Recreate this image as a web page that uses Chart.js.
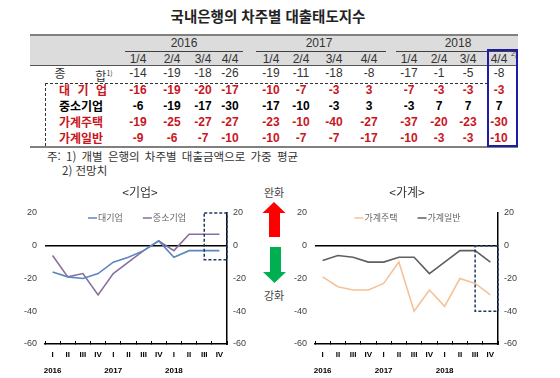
<!DOCTYPE html>
<html lang="ko">
<head>
<meta charset="utf-8">
<script src="https://cdn.jsdelivr.net/npm/chart.js@4.4.1/dist/chart.umd.min.js"></script>
<style>
  body { margin:0; width:560px; height:378px; background:#fff; position:relative; overflow:hidden;
         font-family:"Noto Sans CJK KR", sans-serif; }
  .abs { position:absolute; white-space:nowrap; }
  .c { transform:translateX(-50%); text-align:center; }
  .num { font-family:"Liberation Sans Narrow","Liberation Sans",sans-serif; font-size:12px; color:#333; }
  .bold { font-family:"Liberation Sans",sans-serif; font-weight:bold; font-size:12px; }
  .lab { font-weight:bold; font-size:12px; width:48px; text-align:justify; text-align-last:justify; }
  .red { color:#c8161d; }
  .blk { color:#000; }
  canvas { position:absolute; }
</style>
</head>
<body>
<div id="table"></div>
<svg class="abs" style="left:0;top:0" width="560" height="378">
  <polygon points="274,202 285.5,213 280,213 280,237 269,237 269,213 262.5,213" fill="#ff0000"/>
  <polygon points="270,247 281,247 281,272 286,272 274.5,283 263,272 270,272" fill="#00b050"/>
</svg>
<canvas id="corpChart" width="280" height="202" style="left:0px;top:176px"></canvas>
<canvas id="houseChart" width="274" height="202" style="left:270px;top:176px"></canvas>

<script>
// table data
const years = ['2016', '2017', '2018'];
const quarters = ['1/4', '2/4', '3/4', '4/4'];
const rowNames = ['대 기 업', '중소기업', '가계주택', '가계일반'];
const totalIdx = [-14, -19, -18, -26, -19, -11, -18, -8, -17, -1, -5, -8];
const largeCorp = [-16, -19, -20, -17, -10, -7, -3, 3, -7, -3, -3, -3];
const smeCorp = [-6, -19, -17, -30, -17, -10, -3, 3, -3, 7, 7, 7];
const houseLoan = [-19, -25, -27, -27, -23, -10, -40, -27, -37, -20, -23, -30];
const houseOther = [-9, -6, -7, -10, -10, -7, -7, -17, -10, -3, -3, -10];

// chart axis labels
const quarterTicks = ['I', 'II', 'III', 'IV', 'I', 'II', 'III', 'IV', 'I', 'II', 'III', 'IV'];
const yearTicks = ['2016', '', '', '', '2017', '', '', '', '2018', '', '', ''];
const forecastFrom = 10;
const corpBoxRange = [-8.5, 20];
const houseBoxRange = [-40, 0];

const tbl = document.getElementById('table');
function put(html, x, y, cls, extra) {
  const d = document.createElement('div');
  d.className = 'abs ' + (cls || '');
  d.innerHTML = html;
  d.style.left = x + 'px';
  d.style.top = (y - 9) + 'px';
  d.style.lineHeight = '18px';
  if (extra) Object.assign(d.style, extra);
  tbl.appendChild(d);
  return d;
}
function box(x, y, w, h, style) {
  const d = document.createElement('div');
  d.className = 'abs';
  Object.assign(d.style, { left: x + 'px', top: y + 'px', width: w + 'px', height: h + 'px', boxSizing: 'border-box' }, style);
  tbl.appendChild(d);
}

// title
put('국내은행의 차주별 대출태도지수', 268, 16, 'c', { fontWeight: 'bold', fontSize: '14.5px', color: '#222' });

// header
box(30, 35, 488, 30, { background: '#dcdcdc' });
box(30, 34, 488, 2, { background: '#808080' });
box(30, 65, 488, 1, { background: '#555' });
box(30, 146, 488, 1.5, { background: '#808080' });

const colX = [138, 172, 203, 230, 271, 301, 334, 369, 409, 439, 468, 499];
const yearX = [184, 319, 458];
const yearLine = [[125, 243], [256, 386], [396, 517]];
years.forEach((yr, i) => {
  put(yr, yearX[i], 43, 'c num');
  box(yearLine[i][0], 51, yearLine[i][1] - yearLine[i][0], 1, { background: '#404040' });
});
colX.forEach((x, i) => put(quarters[i % 4], x, 59, 'c num'));
put('<sup style="font-size:7px">2)</sup>', 514, 54, 'c num');

// 종합 row
put('종', 60, 73, 'c', { fontSize: '12px', color: '#333' });
put('합<sup style="font-size:7px">1)</sup>', 104, 73, 'c', { fontSize: '12px', color: '#333' });
totalIdx.forEach((v, i) => put(String(v), colX[i], 73, 'c num'));

// bold rows
const rowY = [90, 106, 122, 138];
const rowCls = ['red', 'blk', 'red', 'red'];
[largeCorp, smeCorp, houseLoan, houseOther].forEach((vals, r) => {
  put(rowNames[r], 59, rowY[r], 'lab ' + rowCls[r]);
  vals.forEach((v, i) => put(String(v), colX[i], rowY[r], 'c bold ' + rowCls[r]));
});

// dashed and blue boxes
box(45, 83, 443, 63, { borderTop: '1px dashed #333', borderLeft: '1px dashed #333' });
box(487, 49, 31, 98, { border: '2px solid #1c1ca8' });

// notes
put('주: 1) 개별 은행의 차주별 대출금액으로 가중 평균', 47, 156, '', { fontSize: '11.5px', color: '#333', wordSpacing: '2px' });
put('2) 전망치', 62, 170, '', { fontSize: '11.5px', color: '#333' });
put('완화', 274, 192, 'c', { fontSize: '11px', color: '#444' });
put('강화', 274, 295, 'c', { fontSize: '11px', color: '#444' });

// plugins
const insideLegend = {
  id: 'insideLegend',
  afterDatasetsDraw(chart, args, opts) {
    const ctx = chart.ctx, area = chart.chartArea;
    ctx.save();
    ctx.font = '9px "Noto Sans CJK KR"';
    const items = chart.data.datasets.map(ds => ({ label: ds.label, color: ds.borderColor, w: 10 + ctx.measureText(ds.label).width }));
    const total = items.reduce((s, it) => s + it.w, 0) + opts.gap * (items.length - 1);
    let x = (area.left + area.right) / 2 - total / 2 + 1;
    const y = area.top + 5;
    items.forEach(it => {
      ctx.strokeStyle = it.color;
      ctx.lineWidth = 1.5;
      ctx.beginPath(); ctx.moveTo(x, y); ctx.lineTo(x + 9, y); ctx.stroke();
      ctx.fillStyle = '#666';
      ctx.textBaseline = 'middle';
      ctx.fillText(it.label, x + 10, y);
      x += it.w + opts.gap;
    });
    ctx.restore();
  }
};
const forecastBox = {
  id: 'forecastBox',
  afterDatasetsDraw(chart, args, opts) {
    const ctx = chart.ctx, xs = chart.scales.x, ys = chart.scales.y;
    const left = xs.getPixelForValue(opts.from);
    const right = chart.chartArea.right;
    const top = ys.getPixelForValue(opts.range[1]);
    const bottom = ys.getPixelForValue(opts.range[0]);
    ctx.save();
    ctx.setLineDash([3, 2]);
    ctx.strokeStyle = '#1f3864';
    ctx.lineWidth = 1.5;
    ctx.strokeRect(left, top, right - left, bottom - top);
    ctx.restore();
  }
};

function makeChart(id, title, series, leftW, rightW, boxRange) {
  new Chart(id, {
    type: 'line',
    data: {
      labels: quarterTicks.map((q, i) => [q, yearTicks[i]]),
      datasets: series.map(s => ({
        label: s.label, data: s.data, borderColor: s.color, borderWidth: 1.6,
        pointRadius: 0, tension: 0, fill: false
      }))
    },
    options: {
      responsive: false,
      animation: false,
      layout: { padding: 0 },
      plugins: {
        legend: { display: false },
        tooltip: { enabled: false },
        title: {
          display: true, text: title, color: '#333',
          font: { size: 12, weight: 'normal', family: 'Noto Sans CJK KR' },
          padding: { top: 9, bottom: 13.6 }
        },
        insideLegend: { gap: 20 },
        forecastBox: { from: forecastFrom, range: boxRange }
      },
      scales: {
        x: {
          offset: true,
          grid: { display: true, offset: true, drawOnChartArea: false, drawTicks: true, tickLength: -3, color: '#000' },
          border: { display: true, color: '#000', width: 1.5 },
          ticks: {
            autoSkip: false, maxRotation: 0, padding: 6, color: '#000',
            font: { size: 8, weight: 'bold', family: 'Liberation Sans', lineHeight: 2 }
          },
          afterFit: s => { s.height = 34; }
        },
        y: {
          position: 'left', min: -60, max: 20,
          ticks: { stepSize: 20, padding: 8, color: '#404040', font: { size: 9, family: 'Liberation Sans' } },
          grid: { color: c => c.tick.value === 0 ? '#000' : 'rgba(0,0,0,0)', lineWidth: 1.5, drawTicks: false },
          border: { display: false },
          afterFit: s => { s.width = leftW; }
        },
        y2: {
          position: 'right', min: -60, max: 20,
          ticks: { stepSize: 20, padding: 6, color: '#404040', font: { size: 9, family: 'Liberation Sans' } },
          grid: { display: false, drawTicks: false },
          border: { display: true, color: '#000', width: 1.5 },
          afterFit: s => { s.width = rightW; }
        }
      }
    },
    plugins: [insideLegend, forecastBox]
  });
}

makeChart('corpChart', '<기업>', [
  { label: '대기업', data: largeCorp, color: '#5a87c0' },
  { label: '중소기업', data: smeCorp, color: '#8a6e9c' }
], 45, 53, corpBoxRange);

makeChart('houseChart', '<가계>', [
  { label: '가계주택', data: houseLoan, color: '#f5c297' },
  { label: '가계일반', data: houseOther, color: '#5f5f5f' }
], 45, 46, houseBoxRange);
</script>
</body>
</html>
